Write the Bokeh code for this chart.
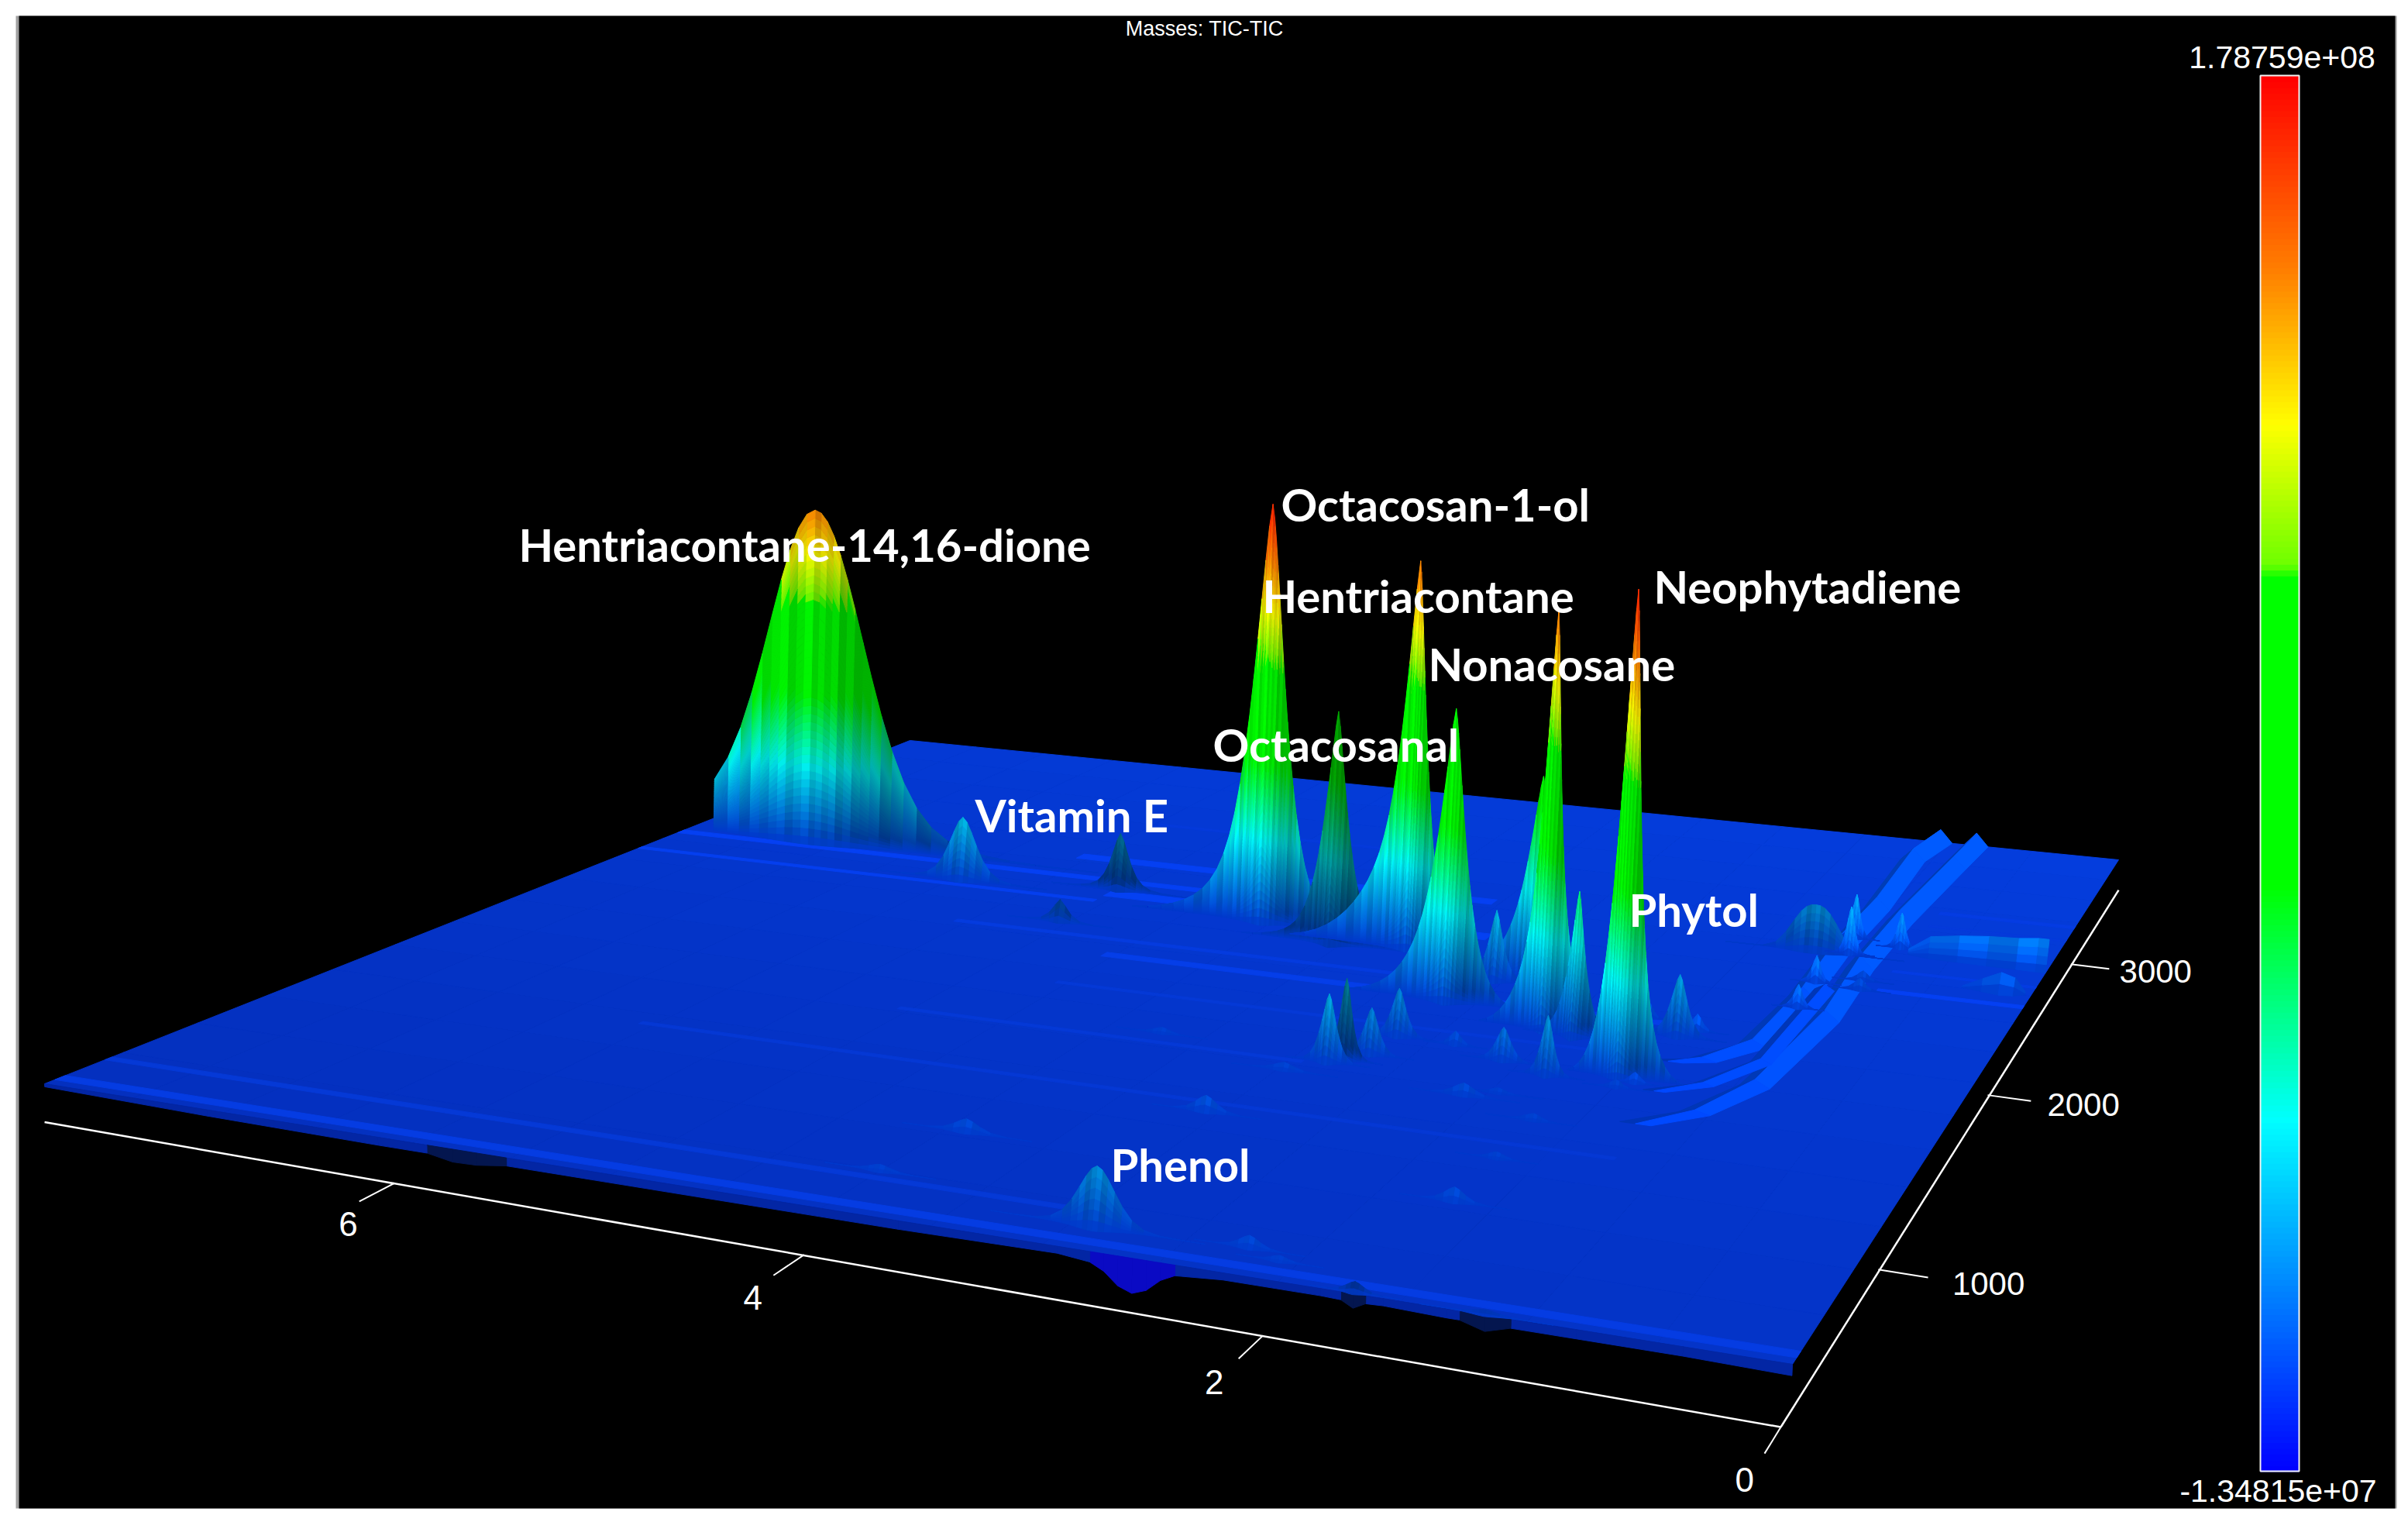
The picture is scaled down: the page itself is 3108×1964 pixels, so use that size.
import math
import numpy as np
from bokeh.plotting import figure
from bokeh.embed import file_html
from bokeh.resources import INLINE
from bokeh.core.properties import value

# ---- data -----------------------------------------------------------------
RT_MAX = 7.9
RT_CUT = 7.82
MASS_MIN, MASS_MAX = 315, 3705
Z_LOW, Z_HIGH = -1.34815e7, 1.78759e8
X_TICKS = [0, 2, 4, 6]
Y_TICKS = [1000, 2000, 3000]
TITLE = "Masses:  TIC-TIC"

#            big  vitE  s1    s2    octol octal hent  g4    n5b   n5    s6    neo   s8
PEAK_RT = [7.06, 5.86, 4.97, 4.98, 3.99, 3.50, 3.10, 2.61, 2.33, 2.03, 1.87, 1.49, 2.51,
           2.79, 2.73, 2.65, 2.63, 2.34, 2.06, 1.81, 1.42, 1.63, 1.36, 2.06, 1.93, 1.68, 1.47, 1.41, 2.93,
           1.17, 1.03, 0.99, 0.77, 1.03, 1.01, 0.80, 0.82,
           2.85, 3.02, 3.85, 2.21, 1.65, 1.67, 3.95, 3.67, 1.66, 2.05, 1.67, 1.15]
PEAK_MASS = [2567, 2375, 2443, 2133, 2327, 2219, 2251, 1907, 2139, 1798, 1777, 1559, 2083,
             1417, 1444, 1496, 1629, 1622, 1563, 1509, 1855, 1955, 1907, 1329, 1368, 1243, 1491, 1532, 1336,
             2587, 2730, 2599, 2690, 2349, 2149, 2330, 2401,
             421, 1046, 765, 435, 777, 1243, 520, 1459, 1017, 400, 322, 318]
PEAK_Z = [1.43, 0.259, 0.231, 0.088, 1.646, 0.893, 1.485, 1.058, 0.75, 1.478, 0.505, 1.64, 0.261,
          0.232, 0.278, 0.16, 0.168, 0.048, 0.114, 0.201, 0.217, 0.058, 0.06, 0.041, 0.018, 0.02, 0.026, 0.036, 0.026,
          0.178, 0.17, 0.18, 0.135, 0.10, 0.085, 0.043, 0.037,
          0.179, 0.053, 0.042, 0.036, 0.044, 0.022, 0.02, 0.02, 0.02, 0.016, 0.03, 0.012]
PEAK_CORE = [0.42, 0.11, 0.07, 0.06, 0.12, 0.085, 0.08, 0.085, 0.08, 0.05, 0.05, 0.06, 0.05,
             0.05, 0.04, 0.05, 0.05, 0.04, 0.05, 0.04, 0.055, 0.03, 0.035, 0.07, 0.05, 0.05, 0.04, 0.035, 0.07,
             0.15, 0.03, 0.03, 0.03, 0.03, 0.03, 0.04, 0.04,
             0.11, 0.07, 0.08, 0.06, 0.06, 0.05, 0.07, 0.06, 0.05, 0.05, 0.05, 0.07]
PEAK_TAIL = [0.16, 0.15, 0.15, 0.10, 0.22, 0.15, 0.40, 0.40, 0.40, 0.35, 0.20, 0.30, 0.15,
             0.1, 0.1, 0.1, 0.1, 0.1, 0.1, 0.1, 0.1, 0.1, 0.1, 0.1, 0.1, 0.1, 0.1, 0.1, 0.1,
             0.0, 0.1, 0.1, 0.1, 0.1, 0.1, 0.1, 0.1,
             0.1, 0.1, 0.1, 0.1, 0.1, 0.1, 0.1, 0.1, 0.1, 0.1, 0.1, 0.1]
PEAK_WL = [0.95, 0.20, 0.16, 0.12, 0.30, 0.20, 0.26, 0.20, 0.18, 0.13, 0.10, 0.10, 0.10,
           0.08, 0.07, 0.08, 0.08, 0.06, 0.08, 0.07, 0.09, 0.05, 0.06, 0.10, 0.08, 0.08, 0.06, 0.05, 0.10,
           0.18, 0.05, 0.05, 0.05, 0.05, 0.05, 0.06, 0.06,
           0.18, 0.10, 0.12, 0.09, 0.09, 0.07, 0.10, 0.09, 0.07, 0.07, 0.07, 0.10]
PEAK_WR = [0.70, 0.20, 0.16, 0.12, 0.20, 0.20, 0.10, 0.13, 0.10, 0.13, 0.10, 0.11, 0.10,
           0.08, 0.07, 0.08, 0.08, 0.06, 0.08, 0.07, 0.09, 0.05, 0.06, 0.10, 0.08, 0.08, 0.06, 0.05, 0.10,
           0.18, 0.05, 0.05, 0.05, 0.05, 0.05, 0.06, 0.06,
           0.18, 0.10, 0.12, 0.09, 0.09, 0.07, 0.10, 0.09, 0.07, 0.07, 0.07, 0.10]
PEAK_Q = [2.0, 1.7, 1.5, 1.5, 1.4, 1.3, 1.3, 1.3, 1.3, 1.3, 1.3, 1.3, 1.4,
          1.5, 1.5, 1.5, 1.5, 1.5, 1.5, 1.5, 1.5, 1.5, 1.5, 1.5, 1.5, 1.5, 1.5, 1.5, 1.5,
          2.5, 1.5, 1.5, 1.5, 1.5, 1.5, 1.5, 1.5,
          1.8, 1.6, 1.6, 1.6, 1.6, 1.6, 1.6, 1.6, 1.6, 1.6, 1.6, 1.6]
PEAK_SHADE = [0.95, 0.95, 0.6, 0.7, 1.0, 0.65, 1.0, 1.0, 0.95, 1.0, 0.95, 1.0, 0.95,
              0.95, 0.6, 0.95, 0.95, 1.05, 1.0, 0.95, 0.95, 1.05, 1.2, 1.05, 1.05, 1.05, 1.05, 1.2, 1.05,
              0.88, 1.25, 1.25, 1.25, 1.25, 1.25, 1.1, 1.1,
              0.95, 1.05, 1.05, 1.05, 1.05, 1.05, 1.05, 1.05, 1.05, 1.05, 0.3, 0.32]

RIDGE_A_RT = [1.03, 1.09, 1.05, 1.06, 1.03, 1.06, 1.22, 1.36]
RIDGE_A_MASS = [3705, 3490, 2995, 2608, 2224, 1850, 1720, 1690]
RIDGE_A_Z = [0.055, 0.05, 0.05, 0.05, 0.04, 0.025, 0.012, 0.0]
RIDGE_B_RT = [0.82, 0.84, 0.88, 0.88, 0.84, 0.90, 1.05, 1.25]
RIDGE_B_MASS = [3705, 3453, 2901, 2488, 2079, 1600, 1400, 1300]
RIDGE_B_Z = [0.055, 0.05, 0.05, 0.05, 0.04, 0.025, 0.012, 0.0]
RIDGE_C_RT = [0.96, 0.96, 1.12, 1.30]
RIDGE_C_MASS = [2300, 1750, 1570, 1500]
RIDGE_C_Z = [0.02, 0.016, 0.01, 0.0]

SHELF_A_RT = [0.71, 0.60, 0.45, 0.30, 0.15, 0.05, 0.0]
SHELF_A_Z = [0.02, 0.075, 0.09, 0.10, 0.105, 0.113, 0.113]
SHELF_A_MASS = 2650
SHELF_B_RT = [0.34, 0.24, 0.15, 0.08, 0.03]
SHELF_B_Z = [0.005, 0.04, 0.07, 0.055, 0.01]
SHELF_B_MASS = 2440

EDGE_RT = [0, 0.4, 0.8, 1.05, 1.15, 1.25, 1.3, 1.55, 1.62, 1.67, 1.72, 1.8, 2.2, 2.4, 2.46, 2.52, 2.58, 2.64, 2.70, 2.76, 2.9,
           3.6, 5.45, 5.6, 5.72, 5.85, 6.1, 7.0, 7.9]
EDGE_Z = [-0.03, -0.025, -0.025, -0.025, -0.045, -0.025, -0.025, -0.02, -0.022, -0.04, -0.022, -0.02, -0.02,
          -0.03, -0.05, -0.085, -0.10, -0.085, -0.05, -0.03, -0.02, -0.025, -0.025, -0.038, -0.04, -0.025, -0.025, -0.02, -0.01]
EDGE_KIND = [0, 0, 0, 0, 1, 0, 0, 0, 0, 1, 0, 0, 0, 0, 2, 2, 2, 2, 2, 0, 0, 0, 0, 1, 1, 0, 0, 0, 0]

STREAK_MASS = [356, 486, 2517, 2334, 3072, 2697, 2406, 1933, 1100, 1400, 1700, 2050, 3021, 2343, 2900, 2500]
STREAK_FROM = [7.9, 7.9, 7.9, 7.9, 5.4, 5.5, 5.0, 4.5, 6.0, 5.0, 4.5, 5.5, 0.72, 0.72, 0.72, 0.72]
STREAK_TO = [0.0, 3.0, 4.2, 5.0, 3.5, 3.0, 2.8, 1.5, 1.2, 2.9, 1.5, 2.8, 0.0, 0.0, 0.0, 0.0]
STREAK_HALF = [14, 10, 16, 10, 10, 22, 26, 16, 8, 8, 8, 10, 12, 12, 8, 8]
STREAK_TONE = [1.12, 1.06, 1.2, 1.18, 1.08, 1.2, 1.22, 1.15, 1.05, 1.06, 1.06, 1.1, 1.12, 1.2, 1.08, 1.12]

LABELS = ["Hentriacontane-14,16-dione", "Octacosan-1-ol", "Hentriacontane", "Neophytadiene",
          "Nonacosane", "Octacosanal", "Vitamin E", "Phytol", "Phenol"]

# ---- view of the 3D box ----------------------------------------------------
A, B, C, D, E, F, G, H = -2241.6, 2133.6, 2313, -10, 43.7, 1760, 0.2518, 0.6264
Z_PX = 490.0
LEAN = 3.5e-5
Z_SPAN = (Z_HIGH - Z_LOW) / 1e8
Z_0 = Z_LOW / 1e8


def uvw(rt, mass):
    u = np.asarray(rt, float) / RT_MAX
    v = (np.asarray(mass, float) - MASS_MIN) / (MASS_MAX - MASS_MIN)
    return u, v, 1 + G * u + H * v


def proj(rt, mass, z=0.0):
    u, v, w = uvw(rt, mass)
    x = (A * u + B * v + C) / w
    y = (D * u + E * v + F) / w
    h = Z_PX * np.asarray(z, float) / w
    return x + LEAN * (x - 1100) * h, y - h


def axis_proj(rt, mass):
    u, v, w = uvw(rt, mass)
    x = (A * u + B * v + C) / w
    y = (D * u + E * v + F) / w
    drop = 81.0 / ((1 + G * u) ** 2.2 * (1 + H * v) ** 1.5)
    return float(x - 15 * (1 - u) * (1 - v)), float(y + drop)


STOPS = [0, 0.252, 0.42, 0.64, 0.65, 0.75, 0.86, 1.0]
ST_R = [0, 0, 0, 0, 110, 255, 255, 255]
ST_G = [0, 255, 255, 255, 255, 255, 128, 0]
ST_B = [255, 255, 0, 0, 0, 0, 0, 0]


def rgb(frac, shade=1.0):
    r = np.interp(frac, STOPS, ST_R) * shade
    g = np.interp(frac, STOPS, ST_G) * shade
    b = np.interp(frac, STOPS, ST_B) * shade
    return "#%02x%02x%02x" % (int(min(r, 255)), int(min(g, 255)), int(min(b, 255)))


def colour(z, shade=0.8):
    return rgb((z * 1.06 - Z_0) / Z_SPAN, shade)


xs_all, ys_all, col_all = [], [], []


def add(xy, c):
    xs_all.append([float(a) for a in xy[0]])
    ys_all.append([float(a) for a in xy[1]])
    col_all.append(c)


COL_STREAK = [1.0, 0.94, 1.04, 0.91, 1.07, 0.96, 1.03, 0.92, 1.06, 0.98, 0.90, 1.05]

# floor
n_f = 16
rt_e = np.linspace(0, RT_MAX, n_f + 1)
m_e = np.linspace(MASS_MIN, MASS_MAX, n_f + 1)
for i in range(n_f):
    for j in range(n_f):
        t = 0.7 * (j + .5) / n_f + 0.3 * (1 - (i + .5) / n_f)
        c = "#%02x%02x%02x" % (4, int(48 + 14 * t), int(190 + 32 * t))
        px, py = proj([rt_e[i], rt_e[i + 1], rt_e[i + 1], rt_e[i]], [m_e[j], m_e[j], m_e[j + 1], m_e[j + 1]])
        add((px, py), c)

# front skirt
EDGE_COL = ["#0326a4", "#04164f", "#0a0ac4"]
for i in range(len(EDGE_RT) - 1):
    r0, r1 = EDGE_RT[i], EDGE_RT[i + 1]
    px, py = proj([r0, r1, r1, r0], [MASS_MIN] * 4, [0, 0, EDGE_Z[i + 1], EDGE_Z[i]])
    add((px, py), EDGE_COL[max(EDGE_KIND[i], EDGE_KIND[i + 1])])

# streaks along retention time
for m, a0, a1, hw, tone in zip(STREAK_MASS, STREAK_FROM, STREAK_TO, STREAK_HALF, STREAK_TONE):
    px, py = proj([a0, a1, a1, a0], [m - hw, m - hw, m + hw, m + hw])
    add((px, py), "#%02x%02x%02x" % (5, int(54 * tone), int(202 * min(tone, 1.2))))


# ridges along mass
def ridge(rt, mass, z, hw=0.07):
    for i in range(len(rt) - 1):
        r = [rt[i], rt[i + 1]]
        m = [mass[i], mass[i + 1]]
        zz = [z[i], z[i + 1]]
        px, py = proj([r[0] + hw, r[1] + hw, r[1], r[0]], [m[0], m[1], m[1], m[0]], [0, 0, zz[1], zz[0]])
        add((px, py), colour(sum(zz) / 4, 0.72))
        px, py = proj([r[0], r[1], r[1] - hw, r[0] - hw], [m[0], m[1], m[1], m[0]], [zz[0], zz[1], 0, 0])
        add((px, py), colour(sum(zz) * 0.35, 1.0))


ridge(RIDGE_A_RT, RIDGE_A_MASS, RIDGE_A_Z)
ridge(RIDGE_B_RT, RIDGE_B_MASS, RIDGE_B_Z)
ridge(RIDGE_C_RT, RIDGE_C_MASS, RIDGE_C_Z, 0.05)


def curtain(rt_cols, mass_cols, z_cols, z_peak, foot, shade):
    """front face of a peak: columns in retention time, rows in height"""
    rows = max(2, math.ceil(z_peak / 0.035))
    lev = np.linspace(0, 1, rows + 1)
    out = []
    for i in range(len(rt_cols) - 1):
        s = shade[i] * COL_STREAK[i % len(COL_STREAK)]
        rel0, rel1 = z_cols[i] / z_peak, z_cols[i + 1] / z_peak
        for j in range(rows):
            z00, z01 = z_cols[i] * lev[j], z_cols[i] * lev[j + 1]
            z10, z11 = z_cols[i + 1] * lev[j], z_cols[i + 1] * lev[j + 1]
            m00 = mass_cols[i] - foot * rel0 * (1 - lev[j])
            m01 = mass_cols[i] - foot * rel0 * (1 - lev[j + 1])
            m10 = mass_cols[i + 1] - foot * rel1 * (1 - lev[j])
            m11 = mass_cols[i + 1] - foot * rel1 * (1 - lev[j + 1])
            px, py = proj([rt_cols[i], rt_cols[i + 1], rt_cols[i + 1], rt_cols[i]],
                          [m00, m10, m11, m01], [z00, z10, z11, z01])
            zm = (z00 + z10 + z01 + z11) / 4
            s_eff = s + (1 - s) * max(0.0, 1 - zm / 0.05)
            lift = 0.8 * (1 + 0.2 * min(1.0, zm / 0.4))
            out.append(((px, py), colour(zm, lift * s_eff)))
    return out


items = []
for rt0, m0, z0, core, tail, wl, wr, q, sh in zip(PEAK_RT, PEAK_MASS, PEAK_Z, PEAK_CORE, PEAK_TAIL,
                                                  PEAK_WL, PEAK_WR, PEAK_Q, PEAK_SHADE):
    ncol = 41 if z0 > 0.5 else (19 if z0 > 0.1 else 11)
    t = np.linspace(-1, 1, ncol)
    shape = np.sinh(t * 2.4) / math.sinh(2.4)
    # larger retention time is to the left on the picture
    d = np.where(shape > 0, shape * 2.6 * max(wl, core), shape * 2.6 * max(wr, core))
    keep = (rt0 + d <= RT_CUT) & (rt0 + d >= 0)
    d = d[keep]
    width = np.where(d > 0, wl, wr)
    big_r = np.where(d > 0, 2.6 * max(wl, core), 2.6 * max(wr, core))
    prof = (1 - tail) * np.exp(-(np.abs(d) / core) ** q) + tail * np.exp(-(np.abs(d) / width) ** q)
    prof = prof * (1 - (np.abs(d) / big_r) ** 4)
    foot = 30 * (min(1.0, z0 * 2) + 0.3)
    if z0 > 0.5:
        dark = 0.28 * np.minimum(1, np.abs(d) / core) * np.exp(-(np.abs(d) / (3 * core)) ** 2)
        col_sh = sh * np.where(d < 0, 1 - dark, 1.0)
    else:
        col_sh = np.full_like(d, sh)
    it = curtain(rt0 + d, np.full_like(d, m0), z0 * prof, z0, foot, col_sh)
    items.append((float(uvw(rt0, m0)[2]), it))

for rts, zs, m in ((SHELF_A_RT, SHELF_A_Z, SHELF_A_MASS), (SHELF_B_RT, SHELF_B_Z, SHELF_B_MASS)):
    it = curtain(np.array(rts), np.full(len(rts), float(m)), np.array(zs), max(zs), 30, np.full(len(rts), 1.15))
    items.append((float(uvw(rts[0], m)[2]), it))

for _, it in sorted(items, key=lambda a: -a[0]):
    for xy, c in it:
        add(xy, c)

# ---- figure ---------------------------------------------------------------
p = figure(width=3100, height=1948, x_range=(0, 3100), y_range=(1948, 0), output_backend="svg",
           toolbar_location=None, min_border=0, background_fill_color="white", border_fill_color="white")
p.axis.visible = False
p.grid.visible = False
p.outline_line_color = None

p.quad(left=[20], right=[3093], top=[20], bottom=[1946], fill_color="#a0a0a0", line_color=None)
p.quad(left=[24], right=[3091], top=[20], bottom=[1946], fill_color="black", line_color=None)

p.patches(xs_all, ys_all, fill_color=col_all, line_color=col_all, line_width=1)

# axes
ax = [axis_proj(r, MASS_MIN) for r in (0, RT_MAX)]
p.line([a[0] for a in ax], [a[1] for a in ax], line_color="white", line_width=2.5)
ay = [axis_proj(0, m) for m in (MASS_MIN, MASS_MAX)]
p.line([a[0] for a in ay], [a[1] for a in ay], line_color="white", line_width=2.5)
tick_font = value("Liberation Sans")
for t in X_TICKS:
    a0 = axis_proj(t, MASS_MIN)
    a1 = axis_proj(t, MASS_MIN - 100)
    a2 = axis_proj(t - 0.004 * t * t, MASS_MIN - 200)
    p.line([a0[0], a1[0]], [a0[1], a1[1]], line_color="white", line_width=2)
    p.text([a2[0] - 4], [a2[1] - 2], text=[str(t)], text_color="white", text_font=tick_font, text_font_size="44px",
           text_align="center", text_baseline="middle")
for t in Y_TICKS:
    a0 = axis_proj(0, t)
    a1 = axis_proj(-0.2, t)
    a2 = axis_proj(-0.44, t)
    p.line([a0[0], a1[0]], [a0[1], a1[1]], line_color="white", line_width=2)
    p.text([a2[0]], [a2[1] - 4], text=[str(t)], text_color="white", text_font=tick_font, text_font_size="42px",
           text_align="center", text_baseline="middle")

# colour bar
n_bar = 240
levels = np.linspace(0, 1, n_bar + 1)
BAR_T, BAR_B, BAR_L, BAR_R = 97, 1898, 2917, 2967
tops = BAR_B - (BAR_B - BAR_T) * levels[1:]
bots = BAR_B - (BAR_B - BAR_T) * levels[:-1]
cols = [rgb((a + b) / 2) for a, b in zip(levels[:-1], levels[1:])]
p.quad(left=BAR_L, right=BAR_R, top=tops, bottom=bots + 1, fill_color=cols, line_color=None)
p.quad(left=[BAR_L], right=[BAR_R], top=[BAR_T], bottom=[BAR_B], fill_color=None, line_color="#f4f4f4", line_width=2)
p.text([2945], [73], text=["%.5e" % Z_HIGH], text_color="white", text_font=tick_font, text_font_size="41px",
       text_align="center", text_baseline="alphabetic")
p.text([2940], [1923], text=["%.5e" % Z_LOW], text_color="white", text_font=tick_font, text_font_size="41px",
       text_align="center", text_baseline="alphabetic")
p.text([1558], [36], text=[TITLE], text_color="white", text_font=tick_font, text_font_size="27px",
       text_align="center", text_baseline="alphabetic")

# compound labels
LABEL_X = [669, 1653, 1629, 2134, 1843, 1565, 1258, 2102, 1433]
LABEL_Y = [702, 650, 768, 756, 856, 960, 1051, 1173, 1502]
for name, lx, ly in zip(LABELS, LABEL_X, LABEL_Y):
    p.text([lx], [ly], text=[name], text_color="white", text_font=value("Lato"), text_font_style="bold",
           text_font_size="58px", text_align="left", text_baseline="alphabetic")

open("out.html", "w").write(file_html(p, INLINE))
